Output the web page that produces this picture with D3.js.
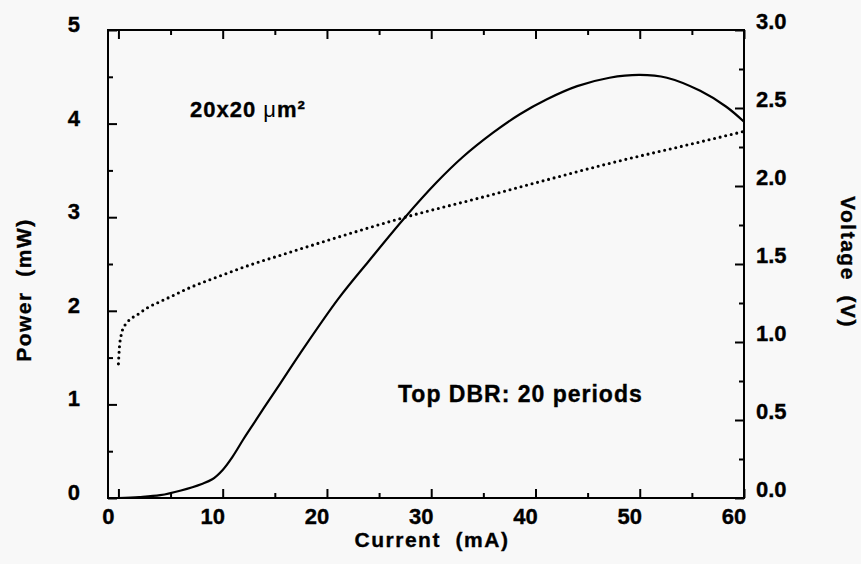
<!DOCTYPE html>
<html>
<head>
<meta charset="utf-8">
<script src="https://cdn.jsdelivr.net/npm/d3@7/dist/d3.min.js"></script>
<style>
  body { margin: 0; background: #f8f8f8; }
  svg { display: block; font-family: "Liberation Sans", Arial, sans-serif; font-weight: bold; }
  text { stroke: #000; stroke-width: 0.35px; }
</style>
</head>
<body>
<svg id="chart" width="861" height="564"></svg>
<script>
// light output (mW) vs current (mA)
var powerCurrent = [0, 2, 4, 6, 8, 9, 10, 11, 12, 13, 14, 15.5, 17.4, 21.1, 24, 27.5, 30.5, 33, 35.9, 38.5, 41.1, 44, 47.1, 50, 52.6, 55.8, 58.3, 60];
var powerValues  = [0, 0.01, 0.03, 0.08, 0.15, 0.2, 0.3, 0.45, 0.63, 0.8, 0.97, 1.22, 1.54, 2.13, 2.53, 3.0, 3.37, 3.64, 3.9, 4.1, 4.26, 4.4, 4.49, 4.52, 4.49, 4.35, 4.18, 4.02];

// voltage (V) vs current (mA)
var voltCurrent = [0, 0.1, 0.25, 0.4, 0.7, 1.1, 1.7, 2.8, 3.9, 5, 6.5, 10, 12.9, 15.5, 20, 27.5, 35, 40, 47.1, 55, 60];
var voltValues  = [0.86, 0.97, 1.04, 1.08, 1.115, 1.145, 1.17, 1.22, 1.256, 1.29, 1.338, 1.43, 1.50, 1.555, 1.65, 1.80, 1.93, 2.02, 2.145, 2.27, 2.35];

var xTicks = [0, 10, 20, 30, 40, 50, 60];
var xMinor = [5, 15, 25, 35, 45, 55];
var powerTicks = [0, 1, 2, 3, 4, 5];
var powerMinor = [0.5, 1.5, 2.5, 3.5, 4.5];
var voltTicks = [0, 0.5, 1.0, 1.5, 2.0, 2.5, 3.0];
var voltMinor = [0.25, 0.75, 1.25, 1.75, 2.25, 2.75];

var L = 108, R = 744, T = 30, B = 498;

var svg = d3.select("#chart");

var x = d3.scaleLinear().domain([-1, 60]).range([L, R]);
var yP = d3.scaleLinear().domain([0, 5]).range([B, T]);
var yV = d3.scaleLinear().domain([0, 3]).range([B, T]);

// major + minor ticks, all pointing inward
function ticks(axis, tr, vals, size) {
  svg.append("g").attr("transform", tr)
    .call(axis.tickValues(vals).tickSize(size).tickSizeOuter(0).tickFormat(""))
    .call(function(g) {
      g.select(".domain").remove();
      g.selectAll("line").attr("stroke", "#000").attr("stroke-width", 2);
    });
}
ticks(d3.axisBottom(x), "translate(0," + B + ")", xTicks, -9);
ticks(d3.axisBottom(x), "translate(0," + B + ")", xMinor, -5);
ticks(d3.axisTop(x), "translate(0," + T + ")", xTicks, -9);
ticks(d3.axisTop(x), "translate(0," + T + ")", xMinor, -5);
ticks(d3.axisLeft(yP), "translate(" + L + ",0)", powerTicks, -9);
ticks(d3.axisLeft(yP), "translate(" + L + ",0)", powerMinor, -5);
ticks(d3.axisRight(yV), "translate(" + R + ",0)", voltTicks, -9);
ticks(d3.axisRight(yV), "translate(" + R + ",0)", voltMinor, -5);

svg.append("rect")
  .attr("x", L).attr("y", T).attr("width", R - L).attr("height", B - T)
  .attr("fill", "none").attr("stroke", "#000").attr("stroke-width", 2);

// tick labels (shifted like the scanned original)
svg.append("g").selectAll("text").data(xTicks).join("text")
  .attr("x", function(d) { return x(d) - 10; })
  .attr("y", 524)
  .attr("text-anchor", "middle")
  .attr("font-size", 22)
  .text(function(d) { return d; });

svg.append("g").selectAll("text").data(powerTicks).join("text")
  .attr("x", 80)
  .attr("y", function(d) { return yP(d) + 2; })
  .attr("text-anchor", "end")
  .attr("font-size", 22)
  .text(function(d) { return d; });

svg.append("g").selectAll("text").data(voltTicks).join("text")
  .attr("x", 756)
  .attr("y", function(d) { return yV(d) - 1; })
  .attr("font-size", 22)
  .text(function(d) { return d3.format(".1f")(d); });

// curves
var pts = powerCurrent.map(function(c, i) { return [c, powerValues[i]]; });
svg.append("path")
  .attr("d", d3.line().x(function(d) { return x(d[0]); }).y(function(d) { return yP(d[1]); })
    .curve(d3.curveCatmullRom.alpha(0.5))(pts))
  .attr("fill", "none").attr("stroke", "#000").attr("stroke-width", 2.2);

var vpts = voltCurrent.map(function(c, i) { return [c, voltValues[i]]; });
svg.append("path")
  .attr("d", d3.line().x(function(d) { return x(d[0]); }).y(function(d) { return yV(d[1]); })
    .curve(d3.curveMonotoneX)(vpts))
  .attr("fill", "none").attr("stroke", "#000").attr("stroke-width", 3.1)
  .attr("stroke-linecap", "round").attr("stroke-dasharray", "0,5.7");

// titles
svg.append("text").attr("x", 432).attr("y", 547).attr("text-anchor", "middle")
  .attr("font-size", 21).attr("letter-spacing", 1.5).style("white-space", "pre")
  .text("Current  (mA)");

svg.append("text").attr("transform", "translate(31,290) rotate(-90)").attr("text-anchor", "middle")
  .attr("font-size", 21).attr("letter-spacing", 1.5).style("white-space", "pre")
  .text("Power  (mW)");

svg.append("text").attr("transform", "translate(841,262) rotate(90)").attr("text-anchor", "middle")
  .attr("font-size", 21).attr("letter-spacing", 1.5).style("white-space", "pre")
  .text("Voltage  (V)");

var area = svg.append("text").attr("x", 190).attr("y", 117).attr("font-size", 22).attr("letter-spacing", 1);
area.append("tspan").text("20x20 ");
area.append("tspan").attr("font-weight", "normal").style("stroke-width", 0).text("\u03bc");
area.append("tspan").text("m\u00b2");

svg.append("text").attr("x", 398).attr("y", 402).attr("font-size", 23).attr("letter-spacing", 1)
  .text("Top DBR: 20 periods");
</script>
</body>
</html>
